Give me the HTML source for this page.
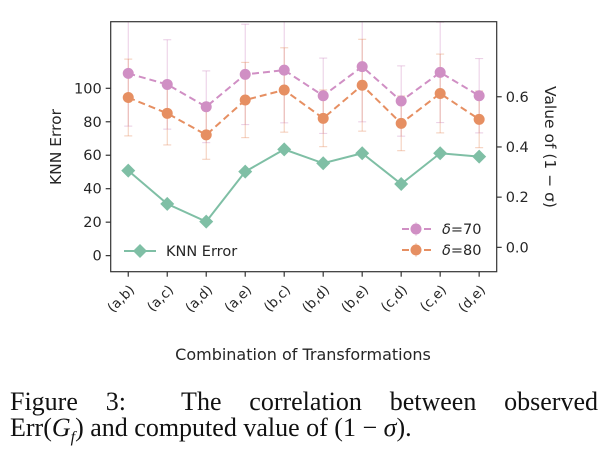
<!DOCTYPE html>
<html><head><meta charset="utf-8"><style>
body{margin:0;background:#fff;width:607px;height:464px;overflow:hidden;position:relative}
svg{position:absolute;left:0;top:0}
.cap{position:absolute;left:10px;width:588px;font-family:"Liberation Serif",serif;font-size:26px;color:#111;text-align:justify;text-align-last:justify;white-space:nowrap;line-height:28px}
</style></head><body>
<svg id="chart" width="607" height="380" font-family="DejaVu Sans, Liberation Sans, sans-serif"></svg>
<div class="cap" style="top:388px">Figure 3:&nbsp; The correlation between observed</div>
<div class="cap" style="top:414px;text-align-last:left;width:auto">Err(<i>G<sub style="font-size:16px">f</sub></i>) and computed value of (1 − <i>σ</i>).</div>
<script>
const categories=["(a,b)","(a,c)","(a,d)","(a,e)","(b,c)","(b,d)","(b,e)","(c,d)","(c,e)","(d,e)"];
const knnError=[50.8,30.9,20.3,50.2,63.5,55.2,61.2,42.8,61.2,59.2];
const delta70=[0.693,0.649,0.560,0.689,0.706,0.604,0.720,0.583,0.697,0.604];
const delta70Err=[0.21,0.178,0.143,0.2,0.21,0.15,0.22,0.14,0.2,0.148];
const delta80=[0.597,0.534,0.448,0.587,0.627,0.514,0.646,0.494,0.613,0.510];
const delta80Err=[0.153,0.126,0.097,0.15,0.168,0.113,0.183,0.109,0.157,0.113];
const leftTicks=[0,20,40,60,80,100];
const rightTicks=[0.0,0.2,0.4,0.6];

const L=110.7,R=496.7,T=21.7,B=271.7;
const svg=document.getElementById('chart');
const NS='http://www.w3.org/2000/svg';
function X(i){return L+(i+0.45)/9.9*(R-L);}
function YL(v){return B-(v+9.6)/149.4*(B-T);}
function YR(v){return B-(v+0.097)/0.996*(B-T);}
function mk(tag,a,parent){const e=document.createElementNS(NS,tag);for(const k in a)e.setAttribute(k,a[k]);(parent||svg).appendChild(e);return e;}
const defs=mk('defs',{});const cp=mk('clipPath',{id:'clip'},defs);mk('rect',{x:L,y:T,width:R-L,height:B-T},cp);
const plot=mk('g',{'clip-path':'url(#clip)'});



function errSeries(vals,errs,color,name){
  const g=mk('g',{},plot);
  
  
  vals.forEach((v,i)=>{
    const x=X(i),y1=YR(v+errs[i]),y2=YR(v-errs[i]);
    mk('line',{x1:x,x2:x,y1:y1,y2:y2,stroke:color,'stroke-width':1,opacity:0.45},g);
    mk('line',{x1:x-4,x2:x+4,y1:y1,y2:y1,stroke:color,'stroke-width':1,opacity:0.45},g);
    mk('line',{x1:x-4,x2:x+4,y1:y2,y2:y2,stroke:color,'stroke-width':1,opacity:0.45},g);
  });
}
function lineSeries(vals,yf,color,name,dash,marker){
  const p=mk('polyline',{points:vals.map((v,i)=>X(i)+','+yf(v)).join(' '),fill:'none',stroke:color,'stroke-width':2,'stroke-dasharray':dash||'none'},plot);
  
  
  vals.forEach((v,i)=>{
    let m;
    if(marker==='d'){const x=X(i),y=yf(v);m=mk('polygon',{points:`${x},${y-7} ${x+7},${y} ${x},${y+7} ${x-7},${y}`,fill:color},plot);}
    else m=mk('circle',{cx:X(i),cy:yf(v),r:5.5,fill:color},plot);
    
    
  });
}
const pink='#d08fc4',orange='#e68f62',green='#7fbfa5';
errSeries(delta70,delta70Err,pink,'delta70');
errSeries(delta80,delta80Err,orange,'delta80');
lineSeries(delta70,YR,pink,'delta70','7,4','o');
lineSeries(delta80,YR,orange,'delta80','7,4','o');
lineSeries(knnError,YL,green,'knn-error',null,'d');

const frame=mk('rect',{x:L,y:T,width:R-L,height:B-T,fill:'none',stroke:'#333','stroke-width':1.2});



leftTicks.forEach(t=>{
  const y=YL(t);
  mk('line',{x1:L-5,x2:L,y1:y,y2:y,stroke:'#333','stroke-width':1.2});
  const tx=mk('text',{x:L-9,y:y+5,'text-anchor':'end','font-size':14.5,fill:'#262626'});tx.textContent=t;
  
  
});
rightTicks.forEach(t=>{
  const y=YR(t);
  mk('line',{x1:R,x2:R+5,y1:y,y2:y,stroke:'#333','stroke-width':1.2});
  const tx=mk('text',{x:R+9,y:y+5,'font-size':14.5,fill:'#262626'});tx.textContent=t.toFixed(1);
  
  
});
categories.forEach((c,i)=>{
  const x=X(i);
  mk('line',{x1:x,x2:x,y1:B,y2:B+5,stroke:'#333','stroke-width':1.2});
  const tx=mk('text',{x:x+7,y:B+19,'text-anchor':'end','font-size':13.5,fill:'#262626',transform:`rotate(-45 ${x+7} ${B+19})`});tx.textContent=c;
  
  
});
let t=mk('text',{x:303,y:360,'text-anchor':'middle','font-size':16,fill:'#262626'});t.textContent='Combination of Transformations';

t=mk('text',{x:61,y:147,'text-anchor':'middle','font-size':15.5,fill:'#262626',transform:'rotate(-90 61 147)'});t.textContent='KNN Error';

t=mk('text',{x:545,y:147,'text-anchor':'middle','font-size':15.5,fill:'#262626',transform:'rotate(90 545 147)'});t.textContent='Value of  (1 − σ)';


// legends
const lg=mk('g',{});
mk('line',{x1:124,x2:156,y1:251,y2:251,stroke:green,'stroke-width':2},lg);
mk('polygon',{points:'140,244 147,251 140,258 133,251',fill:green},lg);
t=mk('text',{x:166,y:256,'font-size':14.5,fill:'#262626'},lg);t.textContent='KNN Error';
[[pink,229,'δ=70','legend-delta70'],[orange,250,'δ=80','legend-delta80']].forEach(([c,y,s,n])=>{
  const g=mk('g',{});
  mk('line',{x1:402,x2:434,y1:y,y2:y,stroke:c,'stroke-width':2,'stroke-dasharray':'7,4'},g);
  mk('line',{x1:416,x2:416,y1:y-7,y2:y+7,stroke:c,opacity:0.45},g);
  mk('circle',{cx:416,cy:y,r:5.5,fill:c},g);
  const tt=mk('text',{x:442,y:y+5,'font-size':14.5,fill:'#262626'},g);tt.innerHTML='<tspan font-style="italic">δ</tspan>=' + s.slice(2);
});
</script>
</body></html>
